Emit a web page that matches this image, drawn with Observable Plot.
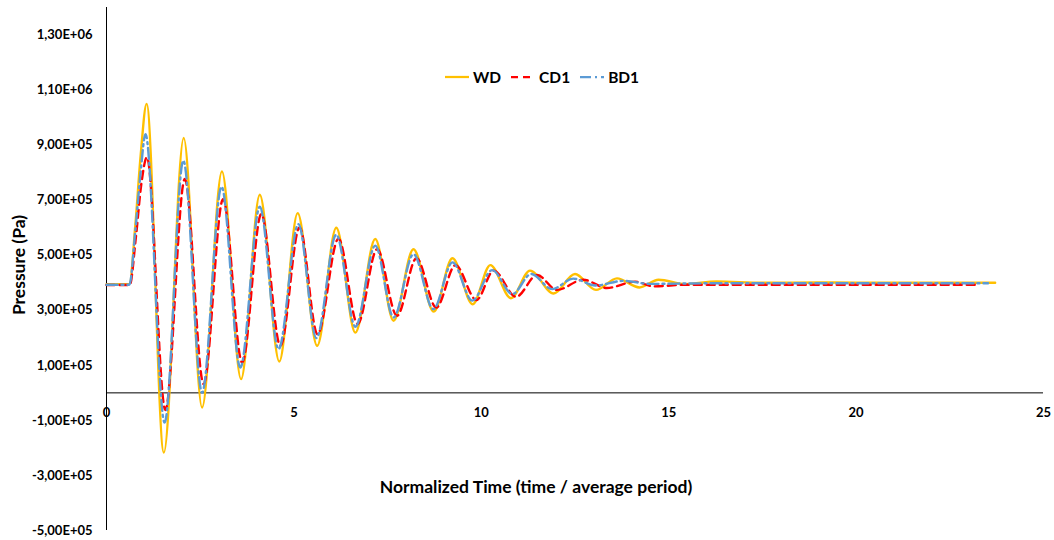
<!DOCTYPE html>
<html>
<head>
<meta charset="utf-8">
<script src="https://cdn.jsdelivr.net/npm/d3@7"></script>
<script src="https://cdn.jsdelivr.net/npm/@observablehq/plot@0.6"></script>
<style>
  html, body { margin: 0; padding: 0; background: #fff; }
  #wrap { position: relative; width: 1054px; height: 540px; font-family: "Lato", "Open Sans", sans-serif; }
  #legend { position: absolute; left: 445px; top: 68px; display: flex; align-items: center; font-weight: bold; font-size: 15.5px; color: #000; }
  #legend .item { display: flex; align-items: center; margin-right: 10px; }
  #legend svg { margin-right: 4px; }
</style>
</head>
<body>
<div id="wrap"></div>
<script>
// ---- Data ----
const seriesNames = ["WD", "CD1", "BD1"];
const seriesColors = ["#FFC000", "#FF0000", "#5B9BD5"];

// WD
const wdTime = [0, 0.61, 0.77, 0.91, 1.07, 1.53, 2.06, 2.55, 3.08, 3.59, 4.09, 4.61, 5.10, 5.62, 6.13, 6.64, 7.17, 7.66, 8.19, 8.73, 9.23, 9.77, 10.24, 10.79, 11.30, 11.93, 12.50, 13.06, 13.62, 14.22, 14.73, 15.45, 16.28, 17.5, 19.0, 21.0, 23.71];
const wdPressure = [3.95e5, 3.95e5, 6.1e5, 8.6e5, 1.05e6, -2.17e5, 9.26e5, -0.53e5, 8.04e5, 0.50e5, 7.20e5, 1.14e5, 6.53e5, 1.71e5, 6.00e5, 2.19e5, 5.59e5, 2.62e5, 5.22e5, 2.95e5, 4.89e5, 3.22e5, 4.64e5, 3.44e5, 4.44e5, 3.61e5, 4.32e5, 3.74e5, 4.16e5, 3.83e5, 4.11e5, 3.95e5, 4.05e5, 4.00e5, 4.01e5, 4.00e5, 4.00e5];

// CD1
const cd1Time = [0, 0.62, 0.78, 0.93, 1.08, 1.57, 2.09, 2.59, 3.11, 3.62, 4.13, 4.64, 5.15, 5.63, 6.19, 6.70, 7.22, 7.75, 8.27, 8.80, 9.31, 9.87, 10.33, 10.93, 11.49, 12.02, 12.72, 13.35, 14.11, 14.59, 15.5, 17.0, 19.0, 21.0, 23.23];
const cd1Pressure = [3.92e5, 3.92e5, 5.6e5, 7.6e5, 8.56e5, -0.62e5, 7.77e5, 0.32e5, 7.04e5, 1.10e5, 6.50e5, 1.71e5, 6.01e5, 2.13e5, 5.60e5, 2.50e5, 5.22e5, 2.80e5, 4.89e5, 3.10e5, 4.64e5, 3.37e5, 4.44e5, 3.49e5, 4.28e5, 3.74e5, 4.11e5, 3.81e5, 4.04e5, 3.87e5, 3.93e5, 3.93e5, 3.93e5, 3.93e5, 3.93e5];

// BD1
const bd1Time = [0, 0.61, 0.77, 0.91, 1.04, 1.55, 2.05, 2.55, 3.07, 3.57, 4.09, 4.59, 5.12, 5.60, 6.13, 6.64, 7.17, 7.66, 8.19, 8.72, 9.23, 9.76, 10.29, 10.83, 11.33, 11.89, 12.45, 13.04, 13.79, 14.5, 16.0, 18.0, 20.0, 23.52];
const bd1Pressure = [3.93e5, 3.93e5, 5.9e5, 8.0e5, 9.40e5, -1.08e5, 8.44e5, 0.01e5, 7.49e5, 0.92e5, 6.76e5, 1.59e5, 6.13e5, 1.99e5, 5.75e5, 2.40e5, 5.35e5, 2.74e5, 5.04e5, 3.04e5, 4.74e5, 3.35e5, 4.46e5, 3.59e5, 4.32e5, 3.77e5, 4.15e5, 3.90e5, 4.07e5, 3.96e5, 3.98e5, 3.98e5, 3.98e5, 3.98e5];

const xTicks = [0, 5, 10, 15, 20, 25];
const yTicks = [-5e5, -3e5, -1e5, 1e5, 3e5, 5e5, 7e5, 9e5, 1.1e6, 1.3e6];

const xTitle = "Normalized Time (time / average period)";
const yTitle = "Pressure (Pa)";

// ---- Build tables ----
const toRows = (ts, ps, name) => ts.map((t, i) => ({t, p: ps[i], series: name}));
const wdRows = toRows(wdTime, wdPressure, "WD");
const cd1Rows = toRows(cd1Time, cd1Pressure, "CD1");
const bd1Rows = toRows(bd1Time, bd1Pressure, "BD1");

function sciComma(d) {
  if (d === 0) return "0";
  let e = Math.floor(Math.log10(Math.abs(d)) + 1e-9);
  let m = d / Math.pow(10, e);
  const sign = e >= 0 ? "+" : "-";
  return m.toFixed(2).replace(".", ",") + "E" + sign + String(Math.abs(e)).padStart(2, "0");
}

const font = "Lato, 'Open Sans', sans-serif";
const lineW = 2.4;

const chart = Plot.plot({
  width: 1054,
  height: 540,
  marginLeft: 106,
  marginRight: 11,
  marginTop: 7,
  marginBottom: 10,
  style: {fontFamily: font, background: "#fff", overflow: "visible"},
  x: {domain: [0, 25], axis: null},
  y: {domain: [-5e5, 1.4e6], axis: null},
  marks: [
    Plot.axisY({ticks: yTicks, tickSize: 0, tickPadding: 14, tickFormat: sciComma, fontSize: 13, fontWeight: "bold", fill: "#000", label: null}),
    Plot.ruleX([0], {stroke: "#000", strokeWidth: 1}),
    Plot.ruleY([0], {stroke: "#000", strokeWidth: 1}),
    Plot.text(xTicks, {x: d => d, y: 0, dy: 20, text: d => String(d), fontSize: 13, fontWeight: "bold", fill: "#000"}),
    Plot.text([xTitle], {frameAnchor: "bottom", dx: -39, dy: -43, textAnchor: "middle", lineAnchor: "middle", fontSize: 17.5, fontWeight: "bold", fill: "#000"}),
    Plot.text([yTitle], {frameAnchor: "left", dx: -87, dy: -4, rotate: -90, textAnchor: "middle", lineAnchor: "middle", fontSize: 17.5, fontWeight: "bold", fill: "#000"}),
    Plot.line(wdRows, {x: "t", y: "p", stroke: seriesColors[0], strokeWidth: lineW, curve: "monotone-x"}),
    Plot.line(cd1Rows, {x: "t", y: "p", stroke: seriesColors[1], strokeWidth: lineW, strokeDasharray: "8,5", curve: "monotone-x"}),
    Plot.line(bd1Rows, {x: "t", y: "p", stroke: seriesColors[2], strokeWidth: lineW, strokeDasharray: "11,4,2,4", curve: "monotone-x"})
  ]
});

const wrap = document.getElementById("wrap");
wrap.appendChild(chart);

// Legend overlay
const dashes = [null, "7,5", "11,4,2,4"];
const legend = document.createElement("div");
legend.id = "legend";
seriesNames.forEach((name, i) => {
  const item = document.createElement("div");
  item.className = "item";
  item.innerHTML = `<svg width="24" height="10"><line x1="0" y1="5" x2="24" y2="5" stroke="${seriesColors[i]}" stroke-width="2.25" ${dashes[i] ? `stroke-dasharray="${dashes[i]}"` : ""}/></svg><span>${name}</span>`;
  legend.appendChild(item);
});
wrap.appendChild(legend);
</script>
</body>
</html>
